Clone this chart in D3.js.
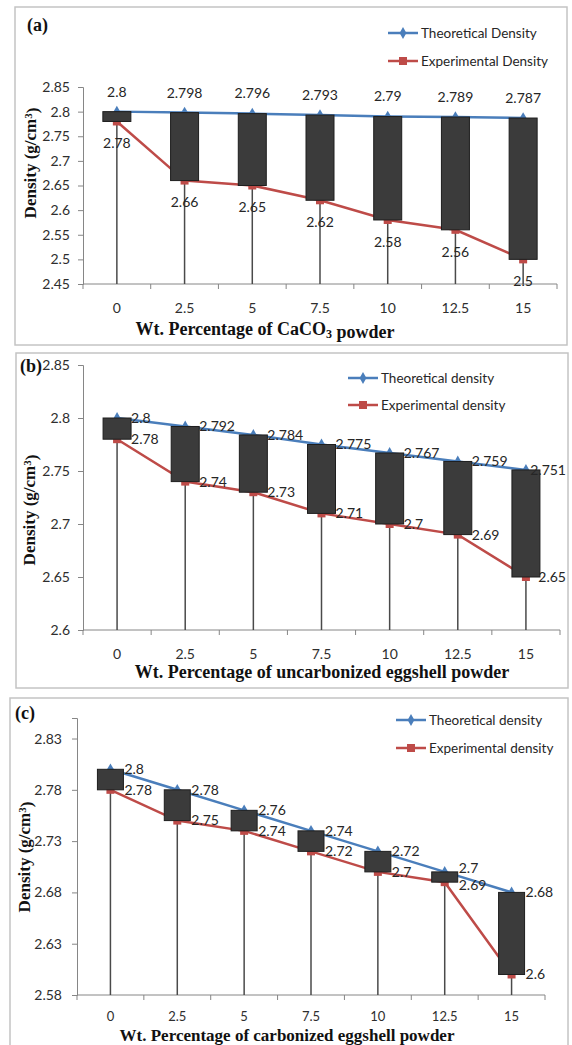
<!DOCTYPE html>
<html>
<head>
<meta charset="utf-8">
<script src="https://cdn.jsdelivr.net/npm/d3@7"></script>
<style>
  html, body { margin: 0; padding: 0; background: #fff; }
  svg { display: block; }
</style>
</head>
<body>
<svg id="chart" width="572" height="1045"></svg>
<script>
// Filler content (wt.%) on every panel
const categories = ["0", "2.5", "5", "7.5", "10", "12.5", "15"];

// (a) CaCO3 powder
const theoreticalA = [2.8, 2.798, 2.796, 2.793, 2.79, 2.789, 2.787];
const experimentalA = [2.78, 2.66, 2.65, 2.62, 2.58, 2.56, 2.5];
const yTicksA = [2.45, 2.5, 2.55, 2.6, 2.65, 2.7, 2.75, 2.8, 2.85];

// (b) uncarbonized eggshell powder
const theoreticalB = [2.8, 2.792, 2.784, 2.775, 2.767, 2.759, 2.751];
const experimentalB = [2.78, 2.74, 2.73, 2.71, 2.7, 2.69, 2.65];
const yTicksB = [2.6, 2.65, 2.7, 2.75, 2.8, 2.85];

// (c) carbonized eggshell powder
const theoreticalC = [2.8, 2.78, 2.76, 2.74, 2.72, 2.7, 2.68];
const experimentalC = [2.78, 2.75, 2.74, 2.72, 2.7, 2.69, 2.6];
const yTicksC = [2.58, 2.63, 2.68, 2.73, 2.78, 2.83];

const BLUE = "#4a7ebb";
const RED = "#be4b48";
const AXIS = "#868686";
const SANS = "Lato, 'Liberation Sans', sans-serif";
const SERIF = "'Liberation Serif', 'Times New Roman', serif";

const svg = d3.select("#chart");
svg.append("rect").attr("width", 572).attr("height", 1045).attr("fill", "#fff");

const fmt = v => String(+v.toFixed(3));

function drawPanel(p) {
  const g = svg.append("g");

  // panel frame
  g.append("rect")
    .attr("x", p.frame[0]).attr("y", p.frame[1])
    .attr("width", p.frame[2] - p.frame[0]).attr("height", p.frame[3] - p.frame[1])
    .attr("fill", "#fff").attr("stroke", "#c4c4c4").attr("stroke-width", 1.5);

  const x = d3.scaleBand().domain(p.categories).range([p.left, p.right]).padding(0);
  const y = d3.scaleLinear().domain(p.yDomain).range([p.bottom, p.top]);
  const cx = d => x(d) + x.bandwidth() / 2;

  // y axis
  const yAxis = d3.axisLeft(y).tickValues(p.yTicks).tickFormat(fmt).tickSizeOuter(0).tickSize(5).tickPadding(p.tickPad);
  const ya = g.append("g").attr("transform", `translate(${p.left},0)`).call(yAxis);
  ya.select(".domain").attr("stroke", AXIS);
  ya.selectAll(".tick line").attr("stroke", AXIS);
  ya.selectAll(".tick text").attr("fill", "#2e2e2e").style("font-family", SANS).style("font-size", "14px");

  // x axis: tick marks on band boundaries, labels at band centres
  const xa = g.append("g").attr("transform", `translate(0,${p.bottom})`);
  xa.append("line").attr("x1", p.left).attr("x2", p.right).attr("stroke", AXIS);
  const bounds = p.categories.map(c => x(c)).concat([p.right]);
  xa.selectAll("line.tk").data(bounds).join("line").attr("class", "tk")
    .attr("x1", d => d).attr("x2", d => d).attr("y1", 0).attr("y2", 5).attr("stroke", AXIS);
  xa.selectAll("text").data(p.categories).join("text")
    .attr("x", d => cx(d)).attr("y", p.xLabelOffset).attr("dy", "0.35em")
    .attr("text-anchor", "middle").attr("fill", "#2e2e2e")
    .style("font-family", SANS).style("font-size", p.xLabelSize).text(d => d);

  const rows = p.categories.map((c, i) => ({ c, t: p.theo[i], e: p.exp[i] }));

  // drop lines from the baseline up to the lower value
  g.selectAll("line.drop").data(rows).join("line").attr("class", "drop")
    .attr("x1", d => cx(d.c)).attr("x2", d => cx(d.c))
    .attr("y1", p.bottom).attr("y2", d => y(Math.min(d.t, d.e)))
    .attr("stroke", "#4a4a4a").attr("stroke-width", 1.5);

  // series lines
  const line = d3.line().x(d => cx(d.c));
  g.append("path").datum(rows).attr("fill", "none").attr("stroke", BLUE).attr("stroke-width", 2.5)
    .attr("d", line.y(d => y(d.t)));
  g.append("path").datum(rows).attr("fill", "none").attr("stroke", RED).attr("stroke-width", 2.5)
    .attr("d", line.y(d => y(d.e)));

  // markers
  const dia = d3.symbol().type(d3.symbolDiamond).size(40);
  g.selectAll("path.tm").data(rows).join("path").attr("class", "tm")
    .attr("transform", d => `translate(${cx(d.c)},${y(d.t)})`).attr("d", dia).attr("fill", BLUE);
  g.selectAll("rect.em").data(rows).join("rect").attr("class", "em")
    .attr("x", d => cx(d.c) - 4).attr("y", d => y(d.e) - 4).attr("width", 8).attr("height", 8)
    .attr("fill", RED);

  // up-down bars between the two series
  g.selectAll("rect.box").data(rows).join("rect").attr("class", "box")
    .attr("x", d => cx(d.c) - p.boxW / 2).attr("width", p.boxW)
    .attr("y", d => y(Math.max(d.t, d.e)))
    .attr("height", d => Math.abs(y(d.t) - y(d.e)))
    .attr("fill", "#3b3b3b").attr("stroke", "#1e1e1e").attr("stroke-width", 1);

  // data labels
  const lab = g.append("g").style("font-family", SANS).style("font-size", "14px").attr("fill", "#262626");
  if (p.labelMode === "above-below") {
    lab.selectAll("text.tl").data(rows).join("text").attr("class", "tl")
      .attr("x", d => cx(d.c)).attr("y", d => y(d.t) - 20).attr("dy", "0.35em")
      .attr("text-anchor", "middle").text(d => fmt(d.t));
    lab.selectAll("text.el").data(rows).join("text").attr("class", "el")
      .attr("x", d => cx(d.c)).attr("y", d => y(d.e) + 22).attr("dy", "0.35em")
      .attr("text-anchor", "middle").text(d => fmt(d.e));
  } else {
    // keep the pair of labels at least minGap apart vertically
    const minGap = 17;
    const ty = d => { const a = y(d.t), b = y(d.e); const s = b - a; return s < minGap ? a - (minGap - s) / 2 : a; };
    const ey = d => { const a = y(d.t), b = y(d.e); const s = b - a; return s < minGap ? b + (minGap - s) / 2 : b; };
    const place = sel => sel.each(function (d) {
      const w = this.getComputedTextLength();
      d3.select(this).attr("x", Math.min(cx(d.c) + 14, p.frame[2] - w - 2));
    });
    lab.selectAll("text.tl").data(rows).join("text").attr("class", "tl")
      .attr("y", ty).attr("dy", "0.35em").text(d => fmt(d.t)).call(place);
    lab.selectAll("text.el").data(rows).join("text").attr("class", "el")
      .attr("y", ey).attr("dy", "0.35em").text(d => fmt(d.e)).call(place);
  }

  // legend
  const lg = g.append("g").style("font-family", SANS).style("font-size", "13.5px");
  [[p.legend[0], BLUE, "dia"], [p.legend[1], RED, "sq"]].forEach(([txt, col, m], i) => {
    const ly = p.legendY + i * p.legendGap;
    lg.append("line").attr("x1", p.legendX).attr("x2", p.legendX + 30).attr("y1", ly).attr("y2", ly)
      .attr("stroke", col).attr("stroke-width", 2.5);
    if (m === "dia") {
      lg.append("path").attr("transform", `translate(${p.legendX + 15},${ly})`).attr("d", dia).attr("fill", col);
    } else {
      lg.append("rect").attr("x", p.legendX + 11).attr("y", ly - 4).attr("width", 8).attr("height", 8).attr("fill", col);
    }
    lg.append("text").attr("x", p.legendX + 33).attr("y", ly).attr("dy", "0.35em").attr("fill", "#262626").text(txt);
  });

  // panel tag
  g.append("text").attr("x", p.tag[0]).attr("y", p.tag[1]).attr("dy", "0.35em")
    .style("font-family", SERIF).style("font-size", "18px").style("font-weight", "bold")
    .attr("fill", "#111").text(p.tagText);

  // y title
  const yt = g.append("text").attr("transform", `translate(${p.yTitle[0]},${p.yTitle[1]}) rotate(-90)`)
    .attr("text-anchor", "middle").attr("dy", "0.35em")
    .style("font-family", SERIF).style("font-size", "17px").style("font-weight", "bold").attr("fill", "#111");
  yt.append("tspan").text("Density (g/cm");
  yt.append("tspan").attr("dy", "-0.4em").style("font-size", "11px").text("3");
  yt.append("tspan").attr("dy", "0.4em").text(")");

  // x title
  const xt = g.append("text").attr("x", p.xTitle[0]).attr("y", p.xTitle[1])
    .attr("text-anchor", "middle")
    .style("font-family", SERIF).style("font-size", p.xTitleSize).style("font-weight", "bold").attr("fill", "#111");
  p.xTitleParts.forEach(([s, sub]) => {
    if (sub) {
      xt.append("tspan").attr("dy", "0.25em").style("font-size", "12px").text(s);
      xt.append("tspan").attr("dy", "-0.25em").text("");
    } else {
      xt.append("tspan").text(s);
    }
  });
}

drawPanel({
  frame: [15, 7, 567, 345],
  categories, theo: theoreticalA, exp: experimentalA, yTicks: yTicksA,
  yDomain: [2.45, 2.85], left: 83, right: 557, top: 87, bottom: 284, tickPad: 8,
  xLabelOffset: 24, xLabelSize: "14px",
  boxW: 28, labelMode: "above-below",
  legend: ["Theoretical Density", "Experimental Density"], legendX: 388, legendY: 33, legendGap: 28,
  tag: [27, 25], tagText: "(a)", yTitle: [30, 163], xTitle: [265, 335], xTitleSize: "18px",
  xTitleParts: [["Wt. Percentage of CaCO"], ["3", true], [" powder"]]
});

drawPanel({
  frame: [16, 353, 568, 688],
  categories, theo: theoreticalB, exp: experimentalB, yTicks: yTicksB,
  yDomain: [2.6, 2.85], left: 83, right: 560, top: 365, bottom: 630, tickPad: 8,
  xLabelOffset: 24, xLabelSize: "14px",
  boxW: 28, labelMode: "right",
  legend: ["Theoretical density", "Experimental density"], legendX: 348, legendY: 378, legendGap: 27,
  tag: [20, 366], tagText: "(b)", yTitle: [29, 510], xTitle: [322, 678], xTitleSize: "18px",
  xTitleParts: [["Wt. Percentage of uncarbonized eggshell powder"]]
});

drawPanel({
  frame: [10, 698, 568, 1052],
  categories, theo: theoreticalC, exp: experimentalC, yTicks: yTicksC,
  yDomain: [2.58, 2.85], left: 77, right: 545, top: 718, bottom: 995, tickPad: 10,
  xLabelOffset: 21, xLabelSize: "13px",
  boxW: 26, labelMode: "right",
  legend: ["Theoretical density", "Experimental density"], legendX: 396, legendY: 720, legendGap: 28,
  tag: [15, 713], tagText: "(c)", yTitle: [24, 857], xTitle: [287, 1041], xTitleSize: "17px",
  xTitleParts: [["Wt. Percentage of carbonized eggshell powder"]]
});
</script>
</body>
</html>
